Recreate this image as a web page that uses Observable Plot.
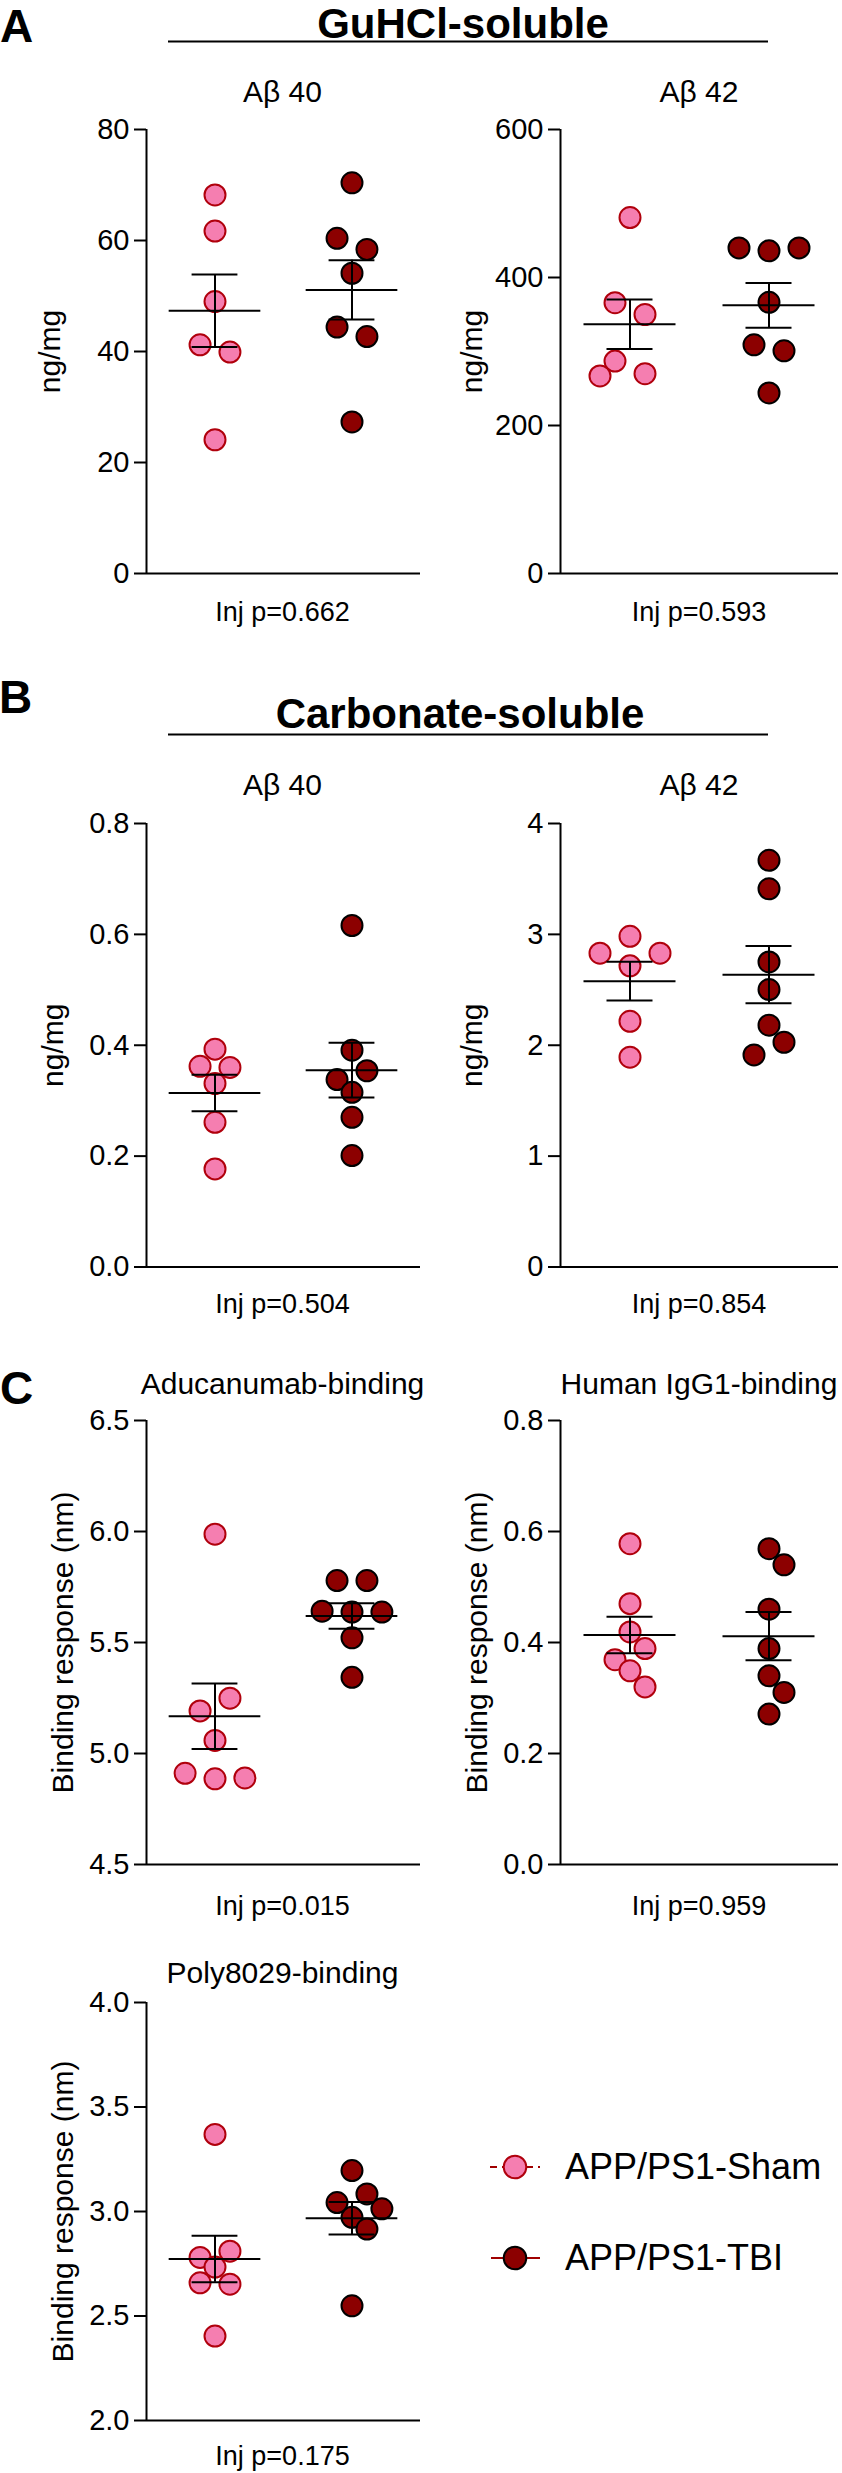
<!DOCTYPE html>
<html>
<head>
<meta charset="utf-8">
<script src="https://cdn.jsdelivr.net/npm/d3@7"></script>
<script src="https://cdn.jsdelivr.net/npm/@observablehq/plot@0.6"></script>
<style>
  html, body { margin: 0; padding: 0; background: #fff; }
  #root { position: relative; width: 842px; height: 2473px; overflow: hidden; background: #fff;
          font-family: "Liberation Sans", Arial, Helvetica, sans-serif; }
  #root svg text { font-family: "Liberation Sans", Arial, Helvetica, sans-serif; }
  svg.panel { overflow: visible; }
  svg.panel text { font-size: 29px !important; fill: #000; }
  svg.panel g[aria-label="y-axis label"] text { font-size: 30px !important; }
  svg.panel g[aria-label="y-axis tick"] path { stroke-width: 2px !important; stroke: #000; }
</style>
</head>
<body>
<div id="root"></div>
<script>
// ---------------- DATA ----------------
const groups = ["APP/PS1-Sham", "APP/PS1-TBI"];
const panelLetters = ["A", "B", "C"];
const sectionTitles = ["GuHCl-soluble", "Carbonate-soluble"];
const panelTitles = ["A\u03B2 40", "A\u03B2 42", "A\u03B2 40", "A\u03B2 42",
                     "Aducanumab-binding", "Human IgG1-binding", "Poly8029-binding"];
const injLabels = ["Inj p=0.662", "Inj p=0.593", "Inj p=0.504", "Inj p=0.854",
                   "Inj p=0.015", "Inj p=0.959", "Inj p=0.175"];
const yLabels = ["ng/mg", "ng/mg", "ng/mg", "ng/mg",
                 "Binding response (nm)", "Binding response (nm)", "Binding response (nm)"];

// A: GuHCl-soluble
const guhclAb40Sham = [68.2, 61.7, 49.0, 41.2, 39.9, 24.1];
const guhclAb40TBI  = [70.4, 60.4, 58.4, 54.1, 44.4, 42.7, 27.3];
const guhclAb42Sham = [481, 366, 350, 287, 267, 270];
const guhclAb42TBI  = [440, 436, 440, 366.5, 309, 301, 244];
// B: Carbonate-soluble
const carbAb40Sham = [0.393, 0.362, 0.360, 0.331, 0.261, 0.177];
const carbAb40TBI  = [0.616, 0.391, 0.338, 0.354, 0.315, 0.270, 0.201];
const carbAb42Sham = [2.983, 2.830, 2.716, 2.830, 2.216, 1.892];
const carbAb42TBI  = [3.668, 3.411, 2.751, 2.502, 2.181, 1.913, 2.027];
// C: binding
const aducaSham = [5.988, 5.192, 5.249, 5.059, 4.911, 4.886, 4.890];
const aducaTBI  = [5.779, 5.779, 5.641, 5.637, 5.637, 5.521, 5.343];
const iggSham   = [0.578, 0.470, 0.419, 0.369, 0.389, 0.349, 0.320];
const iggTBI    = [0.569, 0.540, 0.460, 0.389, 0.340, 0.310, 0.271];
const polySham  = [3.369, 2.780, 2.810, 2.734, 2.659, 2.652, 2.404];
const polyTBI   = [3.196, 3.043, 3.084, 2.972, 3.013, 2.916, 2.549];

// tick values
const ticksGuAb40 = [0, 20, 40, 60, 80];
const ticksGuAb42 = [0, 200, 400, 600];
const ticksCaAb40 = [0, 0.2, 0.4, 0.6, 0.8];
const ticksCaAb42 = [0, 1, 2, 3, 4];
const ticksAduca  = [4.5, 5.0, 5.5, 6.0, 6.5];
const ticksIgG    = [0, 0.2, 0.4, 0.6, 0.8];
const ticksPoly   = [2.0, 2.5, 3.0, 3.5, 4.0];

// ---------------- STYLE / LAYOUT ----------------
const shamFill = "#F57EB0", shamStroke = "#B0000C";
const tbiFill = "#8C0000", tbiStroke = "#000000";
const fmtInt = d3.format("d"), fmtDec = d3.format(".1f");

const panels = [
  {sham: guhclAb40Sham, tbi: guhclAb40TBI, ticks: ticksGuAb40, fmt: fmtInt, i: 0, side: "L", top: 128.5, h: 444, titleY: 102, injY: 621, lo: 108},
  {sham: guhclAb42Sham, tbi: guhclAb42TBI, ticks: ticksGuAb42, fmt: fmtInt, i: 1, side: "R", top: 128.5, h: 444, titleY: 102, injY: 621, lo: 100},
  {sham: carbAb40Sham, tbi: carbAb40TBI, ticks: ticksCaAb40, fmt: fmtDec, i: 2, side: "L", top: 822.5, h: 443.5, titleY: 795, injY: 1313, lo: 105},
  {sham: carbAb42Sham, tbi: carbAb42TBI, ticks: ticksCaAb42, fmt: fmtInt, i: 3, side: "R", top: 822.5, h: 443.5, titleY: 795, injY: 1313, lo: 100},
  {sham: aducaSham, tbi: aducaTBI, ticks: ticksAduca, fmt: fmtDec, i: 4, side: "L", top: 1420, h: 444, titleY: 1394, injY: 1915, lo: 95},
  {sham: iggSham, tbi: iggTBI, ticks: ticksIgG, fmt: fmtDec, i: 5, side: "R", top: 1420, h: 444, titleY: 1394, injY: 1915, lo: 95},
  {sham: polySham, tbi: polyTBI, ticks: ticksPoly, fmt: fmtDec, i: 6, side: "L", top: 2002, h: 418, titleY: 1983, injY: 2465, lo: 95}
];

// scatter-dot-plot spreading (rows of near-equal values spread symmetrically)
function swarm(values, yPx) {
  const T = 14, dmin = 17, step = 15;
  const idx = d3.range(values.length).sort((a, b) => d3.descending(values[a], values[b]) || a - b);
  const rows = [];
  for (const i of idx) {
    const last = rows[rows.length - 1];
    if (last && Math.abs(yPx(values[i]) - yPx(values[last[0]])) < T) last.push(i);
    else rows.push([i]);
  }
  const off = new Array(values.length);
  const placed = [];
  const shifts = [0, step, -step, 2 * step, -2 * step, 3 * step, -3 * step];
  for (const row of rows) {
    row.sort((a, b) => a - b);
    const n = row.length, sp = n >= 4 ? 24 : 30;
    const base = row.map((_, k) => (k - (n - 1) / 2) * sp);
    for (const s of shifts) {
      const ok = row.every((i, k) => placed.every(p => Math.hypot(p.x - (base[k] + s), p.y - yPx(values[i])) >= dmin));
      if (ok || s === shifts[shifts.length - 1]) {
        row.forEach((i, k) => { off[i] = base[k] + s; placed.push({x: off[i], y: yPx(values[i])}); });
        break;
      }
    }
  }
  return off;
}

const root = d3.select("#root");
const ann = root.append("svg")
  .attr("width", 842).attr("height", 2473)
  .style("position", "absolute").style("left", "0px").style("top", "0px");

function txt(x, y, s, size, anchor = "middle", weight = "normal") {
  ann.append("text").attr("x", x).attr("y", y)
    .attr("font-size", size).attr("font-weight", weight)
    .attr("text-anchor", anchor).attr("fill", "#000").text(s);
}
function hline(x1, x2, y) {
  ann.append("line").attr("x1", x1).attr("x2", x2).attr("y1", y).attr("y2", y)
    .attr("stroke", "#000").attr("stroke-width", 2);
}

// panel letters and section headers
txt(0, 41.5, panelLetters[0], 46, "start", "bold");
txt(-1, 713, panelLetters[1], 46, "start", "bold");
txt(0, 1404, panelLetters[2], 46, "start", "bold");
txt(463, 37.5, sectionTitles[0], 42, "middle", "bold");
hline(168, 768, 41.5);
txt(460, 727.5, sectionTitles[1], 42, "middle", "bold");
hline(168, 768, 734.5);

for (const p of panels) {
  const L = p.side === "L" ? {left: 0, width: 420, ml: 145, mr: 0} : {left: 420, width: 422, ml: 140, mr: 4};
  const mt = 14, mb = 14;
  const half = (L.width - L.ml - L.mr) / 4;
  const domain = d3.extent(p.ticks);
  const yPx = d3.scaleLinear(domain, [p.h, 0]);
  const dots = [], stats = [];
  [[groups[0], p.sham], [groups[1], p.tbi]].forEach(([g, vals]) => {
    const off = swarm(vals, yPx);
    vals.forEach((v, i) => dots.push({group: g, value: v, offset: off[i]}));
    const m = d3.mean(vals), se = d3.deviation(vals) / Math.sqrt(vals.length);
    stats.push({group: g, mean: m, lo: m - se, hi: m + se});
  });

  const chart = Plot.plot({
    width: L.width,
    height: p.h + mt + mb,
    marginLeft: L.ml, marginRight: L.mr, marginTop: mt, marginBottom: mb,
    style: {fontSize: "29px", fontFamily: "'Liberation Sans', Arial, Helvetica, sans-serif",
            color: "#000", background: "transparent", overflow: "visible"},
    fx: {domain: groups, padding: 0, axis: null, label: null},
    x: {domain: [-half, half], axis: null},
    y: {domain: domain, axis: null},
    color: {domain: groups, range: [shamFill, tbiFill]},
    marks: [
      Plot.axisY({ticks: p.ticks, tickFormat: p.fmt, tickSize: 12, tickPadding: 5,
                  label: yLabels[p.i], labelAnchor: "center", labelOffset: p.lo, labelArrow: false,
                  fontSize: 29, strokeWidth: 2}),
      Plot.ruleY([domain[0]], {stroke: "#000", strokeWidth: 2}),
      Plot.ruleX([groups[0]], {fx: d => d, x: -half, stroke: "#000", strokeWidth: 2}),
      Plot.dot(dots, {fx: "group", x: "offset", y: "value", r: 10.5, fill: "group",
                      stroke: d => d.group === groups[0] ? shamStroke : tbiStroke, strokeWidth: 2}),
      Plot.ruleY(stats, {fx: "group", y: "mean", x1: -46, x2: 46, stroke: "#000", strokeWidth: 2}),
      Plot.ruleY(stats, {fx: "group", y: "hi", x1: -23, x2: 23, stroke: "#000", strokeWidth: 2}),
      Plot.ruleY(stats, {fx: "group", y: "lo", x1: -23, x2: 23, stroke: "#000", strokeWidth: 2}),
      Plot.ruleX(stats, {fx: "group", x: 0, y1: "lo", y2: "hi", stroke: "#000", strokeWidth: 2})
    ]
  });
  chart.classList.add("panel");
  chart.style.position = "absolute";
  chart.style.left = L.left + "px";
  chart.style.top = (p.top - mt) + "px";
  chart.style.maxWidth = "none";
  root.node().appendChild(chart);

  const cx = L.left + L.ml + 2 * half;
  txt(cx, p.titleY, panelTitles[p.i], 30);
  txt(cx, p.injY, injLabels[p.i], 27);
}

// legend
const legendY = [2167, 2258];
const lg = ann.append("g");
lg.append("line").attr("x1", 490).attr("x2", 540).attr("y1", legendY[0]).attr("y2", legendY[0])
  .attr("stroke", "#A00000").attr("stroke-width", 2.2).attr("stroke-dasharray", "7,5");
lg.append("circle").attr("cx", 515).attr("cy", legendY[0]).attr("r", 11.3)
  .attr("fill", shamFill).attr("stroke", shamStroke).attr("stroke-width", 2);
lg.append("line").attr("x1", 491).attr("x2", 540).attr("y1", legendY[1]).attr("y2", legendY[1])
  .attr("stroke", "#A00000").attr("stroke-width", 2.2);
lg.append("circle").attr("cx", 515).attr("cy", legendY[1]).attr("r", 11.3)
  .attr("fill", tbiFill).attr("stroke", tbiStroke).attr("stroke-width", 2);
txt(565, legendY[0] + 12, groups[0], 36, "start");
txt(565, legendY[1] + 12, groups[1], 36, "start");
</script>
</body>
</html>
